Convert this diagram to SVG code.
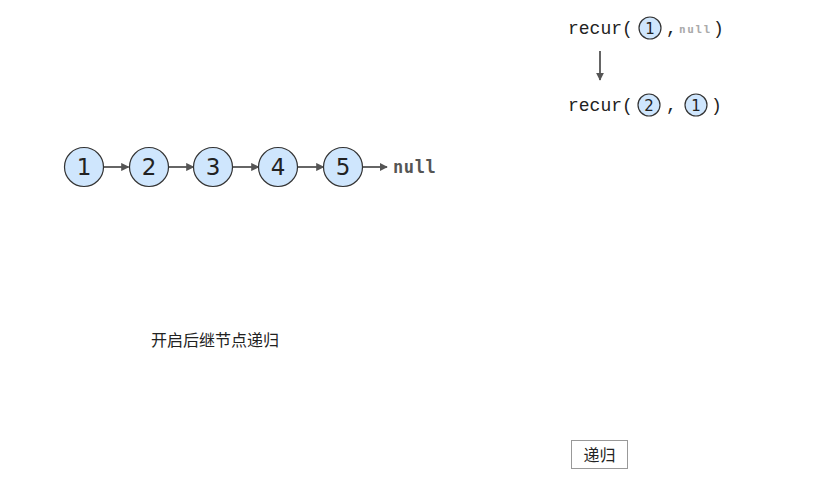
<svg xmlns="http://www.w3.org/2000/svg" width="819" height="480" viewBox="0 0 819 480">
<style>
.node{fill:#cfe6fd;stroke:#333;stroke-width:1.2}
.num{font-family:"DejaVu Sans",sans-serif;font-size:23px;fill:#222;text-anchor:middle}
.snum{font-family:"DejaVu Sans",sans-serif;font-size:15px;fill:#222;text-anchor:middle}
.mono{font-family:"Liberation Mono",monospace;font-size:18px;fill:#222}
.conn{stroke:#555;stroke-width:1.8;fill:none}
.cn{font-family:"Noto Sans CJK SC",sans-serif;font-size:16px;fill:#222}
</style>
<defs>
<marker id="ah" viewBox="0 0 10 10" refX="9" refY="5" markerWidth="4.5" markerHeight="4.5" orient="auto">
<path d="M0,0 L10,5 L0,10 z" fill="#555"/>
</marker>
</defs>
<rect width="819" height="480" fill="#fff"/>
<g id="connectors">
<line class="conn" x1="103.5" y1="167" x2="128.5" y2="167" marker-end="url(#ah)"/>
<line class="conn" x1="168.5" y1="167" x2="193.5" y2="167" marker-end="url(#ah)"/>
<line class="conn" x1="232.5" y1="167" x2="258.5" y2="167" marker-end="url(#ah)"/>
<line class="conn" x1="297.5" y1="167" x2="323.5" y2="167" marker-end="url(#ah)"/>
<line class="conn" x1="362.5" y1="167" x2="387" y2="167" marker-end="url(#ah)"/>
<line class="conn" x1="600" y1="51" x2="600" y2="80" marker-end="url(#ah)"/>
</g>
<g id="n1"><circle class="node" cx="84" cy="167" r="19.5"/><text class="num" x="84" y="175">1</text></g>
<g id="n2"><circle class="node" cx="149" cy="167" r="19.5"/><text class="num" x="149" y="175">2</text></g>
<g id="n3"><circle class="node" cx="213" cy="167" r="19.5"/><text class="num" x="213" y="175">3</text></g>
<g id="n4"><circle class="node" cx="278" cy="167" r="19.5"/><text class="num" x="278" y="175">4</text></g>
<g id="n5"><circle class="node" cx="343" cy="167" r="19.5"/><text class="num" x="343" y="175">5</text></g>
<g id="null"><text x="393" y="173" font-family="DejaVu Sans Mono,monospace" font-size="17" font-weight="bold" fill="#555" letter-spacing="0.6">null</text></g>
<g id="call1">
<text class="mono" x="568" y="34">recur(</text>
<circle class="node" cx="650" cy="28" r="11"/><text class="snum" x="650" y="33.5">1</text>
<text class="mono" x="666" y="34">,</text>
<text x="679" y="33" font-family="DejaVu Sans Mono,monospace" font-size="11" font-weight="bold" fill="#aaa" letter-spacing="1.6">null</text>
<text class="mono" x="713" y="34">)</text>
</g>
<g id="call2">
<text class="mono" x="568" y="111">recur(</text>
<circle class="node" cx="649" cy="105" r="11"/><text class="snum" x="649" y="110.5">2</text>
<text class="mono" x="666" y="111">,</text>
<circle class="node" cx="696" cy="105" r="11"/><text class="snum" x="696" y="110.5">1</text>
<text class="mono" x="711" y="111">)</text>
</g>
<g id="caption"><text class="cn" x="151" y="346">开启后继节点递归</text></g>
<g id="button">
<rect x="571.5" y="440.5" width="56" height="28" fill="#fff" stroke="#999" stroke-width="1"/>
<text class="cn" x="599.5" y="460.5" text-anchor="middle" font-size="17">递归</text>
</g>
</svg>
